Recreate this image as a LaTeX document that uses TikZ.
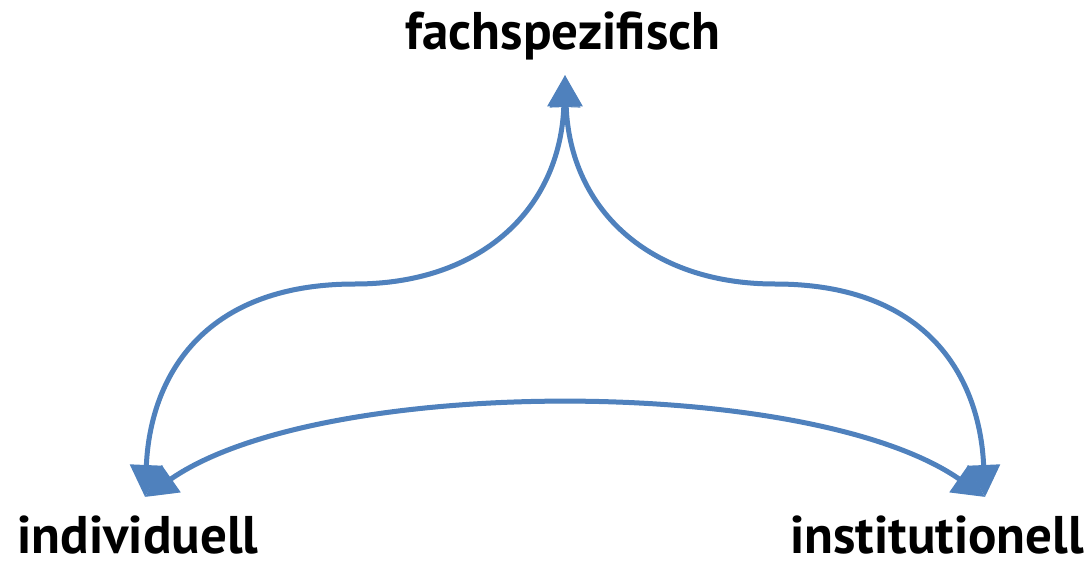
\documentclass[tikz,border=0pt]{standalone}
\usepackage{fontspec}
\setmainfont{PT Sans}
\usetikzlibrary{arrows.meta}
\definecolor{arrowblue}{RGB}{79,129,189}
\tikzset{
  lbl/.style={font=\bfseries\fontsize{53}{60}\selectfont, text=black, inner sep=0pt, anchor=base},
  conn/.style={draw=arrowblue, line width=5pt,
    {Triangle[length=32pt,width=32pt]}-{Triangle[length=32pt,width=32pt]},
    preaction={draw=black!16, fill=none, transform canvas={shift={(1.5pt,-2pt)}}}},
}
\begin{document}
\begin{tikzpicture}[x=1pt,y=-1pt]
\useasboundingbox (0,0) rectangle (1092,564);
\node[lbl] (top) at (563,50) {fachspezifisch};
\node[lbl] (left) at (138,553) {individuell};
\node[lbl] (right) at (937,553) {institutionell};
\coordinate (tt) at (565,75);
\coordinate (lt) at (145,497);
\coordinate (rt) at (985,497);
\coordinate (lm) at (355,284);
\coordinate (rm) at (775,284);
\draw[conn] (tt) .. controls (560,210) and (480,284) .. (lm) .. controls (200,284) and (150,380) .. (lt);
\draw[conn] (tt) .. controls (570,210) and (650,284) .. (rm) .. controls (930,284) and (980,380) .. (rt);
\draw[conn] (lt) .. controls (320,375) and (810,375) .. (rt);
\end{tikzpicture}
\end{document}
